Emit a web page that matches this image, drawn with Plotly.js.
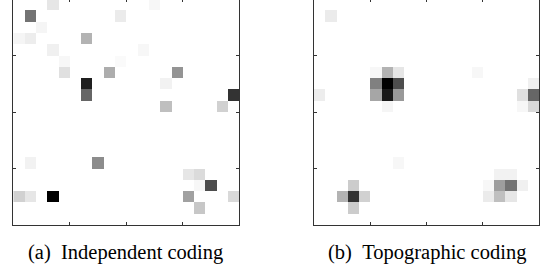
<!DOCTYPE html>
<html>
<head>
<meta charset="utf-8">
<script src="https://cdn.plot.ly/plotly-3.0.1.min.js"></script>
<style>
  html, body { margin: 0; padding: 0; background: #ffffff; overflow: hidden; }
  #chart { position: absolute; left: 0; top: -2px; width: 549px; height: 271px; }
</style>
</head>
<body>
<div id="chart"></div>
<script>
// Grid size
const nRows = 20;
const nCols = 20;

// Panel (a) Independent coding: sparse cells (row, col, intensity 0..1)
const indepRows = [0, 0, 1, 1, 2, 3, 3, 3, 4, 4, 5, 5, 6, 6, 6, 7, 7, 8, 8, 9, 9, 14, 14, 15, 15, 16, 16, 17, 17, 17, 17, 17, 18];
const indepCols = [3, 12, 1, 9, 2, 0, 1, 6, 3, 11, 4, 9, 4, 8, 14, 6, 13, 6, 19, 13, 18, 1, 7, 15, 16, 16, 17, 0, 1, 3, 15, 19, 16];
const indepVals = [0.10, 0.03, 0.55, 0.08, 0.04, 0.04, 0.07, 0.30, 0.06, 0.03, 0.03, 0.02, 0.12, 0.32, 0.42, 0.88, 0.05, 0.60, 0.80, 0.25, 0.18, 0.05, 0.45, 0.10, 0.14, 0.03, 0.70, 0.18, 0.10, 1.00, 0.37, 0.15, 0.22];

// Panel (b) Topographic coding: sparse cells (row, col, intensity 0..1)
const topoRows = [1, 6, 6, 6, 6, 7, 7, 7, 7, 8, 8, 8, 8, 8, 8, 9, 9, 9, 14, 15, 15, 16, 16, 16, 16, 16, 17, 17, 17, 17, 17, 17, 18];
const topoCols = [1, 5, 6, 7, 14, 5, 6, 7, 19, 0, 5, 6, 7, 18, 19, 6, 18, 19, 7, 16, 17, 3, 15, 16, 17, 18, 2, 3, 4, 15, 16, 17, 3];
const topoVals = [0.08, 0.03, 0.30, 0.10, 0.03, 0.50, 1.00, 0.70, 0.06, 0.07, 0.35, 0.90, 0.40, 0.12, 0.60, 0.04, 0.03, 0.15, 0.03, 0.05, 0.05, 0.20, 0.03, 0.38, 0.55, 0.06, 0.30, 0.80, 0.18, 0.08, 0.25, 0.10, 0.20];

// Captions
const captions = ["(a)\u2002Independent coding", "(b)\u2002Topographic coding"];

function buildGrid(rows, cols, vals) {
  const z = [];
  for (let r = 0; r < nRows; r++) {
    const line = [];
    for (let c = 0; c < nCols; c++) line.push(0);
    z.push(line);
  }
  for (let i = 0; i < vals.length; i++) z[rows[i]][cols[i]] = vals[i];
  return z;
}

const greys = [[0, '#ffffff'], [1, '#000000']];

const traces = [
  { type: 'heatmap', z: buildGrid(indepRows, indepCols, indepVals), xaxis: 'x', yaxis: 'y',
    colorscale: greys, zmin: 0, zmax: 1, showscale: false, hoverinfo: 'skip' },
  { type: 'heatmap', z: buildGrid(topoRows, topoCols, topoVals), xaxis: 'x2', yaxis: 'y2',
    colorscale: greys, zmin: 0, zmax: 1, showscale: false, hoverinfo: 'skip' }
];

const tickPos = [4.5, 9.5, 14.5];
function axis(domain, isY) {
  return {
    domain: domain,
    range: isY ? [nRows - 0.5, -0.5] : [-0.5, nCols - 0.5],
    autorange: false,
    showgrid: false, zeroline: false,
    showline: true, linecolor: '#333333', linewidth: 1, mirror: 'ticks',
    ticks: 'inside', ticklen: 3, tickwidth: 1, tickcolor: '#333333',
    tickvals: tickPos, showticklabels: false, fixedrange: true
  };
}

const W = 549;
const capFont = { family: 'Liberation Serif, Times New Roman, serif', size: 20.5, color: '#000000' };
const layout = {
  width: 549, height: 271,
  margin: { l: 0, r: 0, t: 1, b: 44, pad: 0 },
  paper_bgcolor: '#ffffff', plot_bgcolor: '#ffffff',
  showlegend: false,
  xaxis: axis([13.3 / W, 239.3 / W], false),
  yaxis: axis([0, 1], true),
  xaxis2: Object.assign(axis([314 / W, 539 / W], false), { anchor: 'y2' }),
  yaxis2: Object.assign(axis([0, 1], true), { anchor: 'x2' }),
  annotations: [
    { text: captions[0], xref: 'paper', yref: 'paper', x: 125.5 / W, y: -0.122,
      xanchor: 'center', yanchor: 'middle', showarrow: false, font: capFont },
    { text: captions[1], xref: 'paper', yref: 'paper', x: 426.5 / W, y: -0.122,
      xanchor: 'center', yanchor: 'middle', showarrow: false, font: capFont }
  ]
};
layout.xaxis.anchor = 'y';
layout.yaxis.anchor = 'x';

Plotly.newPlot('chart', traces, layout, { staticPlot: true, displayModeBar: false });
</script>
</body>
</html>
